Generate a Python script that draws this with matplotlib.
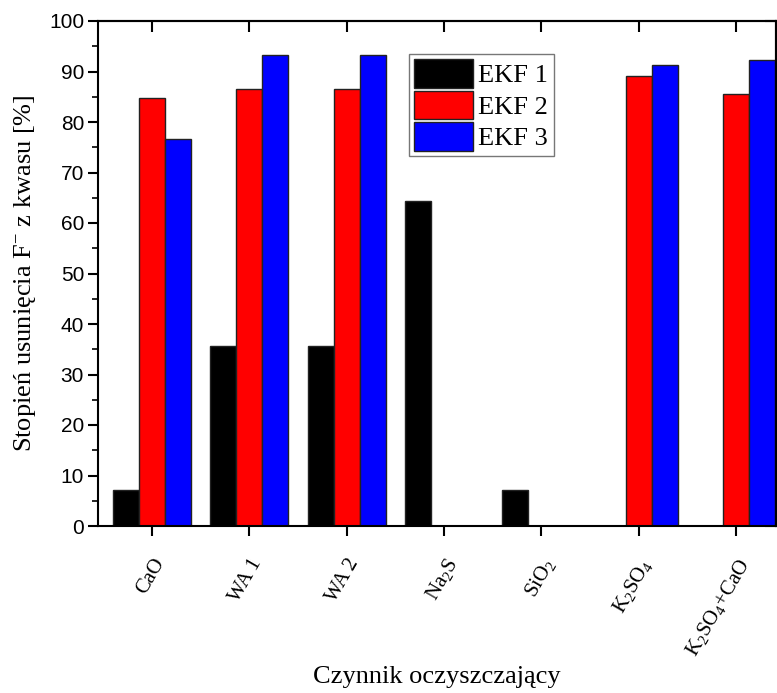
import numpy as np
import matplotlib
matplotlib.use('Agg')
import matplotlib.pyplot as plt
from matplotlib.ticker import MultipleLocator

plt.rcParams['mathtext.fontset'] = 'custom'
plt.rcParams['mathtext.rm'] = 'Liberation Serif'
plt.rcParams['mathtext.it'] = 'Liberation Serif'
plt.rcParams['mathtext.default'] = 'regular'

# dane
czynniki = ['CaO', 'WA 1', 'WA 2', r'Na$_2$S', r'SiO$_2$', r'K$_2$SO$_4$', r'K$_2$SO$_4$+CaO']
ekf1 = [7.2, 35.6, 35.6, 64.3, 7.2, 0, 0]
ekf2 = [84.8, 86.5, 86.5, 0, 0, 89.2, 85.6]
ekf3 = [76.7, 93.3, 93.3, 0, 0, 91.3, 92.3]
serie = ['EKF 1', 'EKF 2', 'EKF 3']
kolory = ['#000000', '#ff0000', '#0000ff']

fig = plt.figure(figsize=(7.77, 6.93), dpi=100)
ax = fig.add_axes([98 / 777, 1 - 526 / 693, (776 - 98) / 777, (526 - 21) / 693])

x = np.arange(len(czynniki))
w = 0.267
for k, vals in enumerate([ekf1, ekf2, ekf3]):
    ax.bar(x + (k - 1) * w, vals, width=w, color=kolory[k], edgecolor='#222222',
           linewidth=1.0, label=serie[k])

ax.set_xlim(-0.554, 6.41)
ax.set_ylim(0, 100)
ax.yaxis.set_major_locator(MultipleLocator(10))
ax.yaxis.set_minor_locator(MultipleLocator(5))
ax.set_xticks(x)
ax.set_xticklabels(czynniki, rotation=60, ha='right', va='top', rotation_mode='anchor',
                   family='Liberation Serif', fontsize=15)
for lab in ax.get_yticklabels():
    lab.set_family('Liberation Sans')
    lab.set_fontsize(15)

ax.tick_params(axis='both', which='major', direction='out', length=7, width=1.5)
ax.tick_params(axis='y', which='minor', direction='out', length=4, width=1.2)
ax.tick_params(axis='x', which='major', pad=14)
ax.tick_params(axis='y', which='major', pad=3)
sec_x = ax.secondary_xaxis('top')
sec_x.set_xticks(x)
sec_x.tick_params(direction='in', length=8, width=1.5, labeltop=False)
sec_y = ax.secondary_yaxis('right')
sec_y.set_yticks(np.arange(0, 101, 10))
sec_y.tick_params(direction='in', length=8, width=1.5, labelright=False)
for s in ax.spines.values():
    s.set_linewidth(1.5)
sec_x.spines['top'].set_linewidth(1.5)
sec_y.spines['right'].set_linewidth(1.5)

ax.set_xlabel('Czynnik oczyszczający', family='Liberation Serif', fontsize=19, labelpad=4)
ax.set_ylabel(r'Stopień usunięcia F$^{-}$ z kwasu [%]', family='Liberation Serif', fontsize=19, labelpad=8)

leg = ax.legend(loc='upper left', bbox_to_anchor=(0.458, 0.935), prop={'family': 'Liberation Serif', 'size': 19},
                frameon=True, fancybox=False, framealpha=1, edgecolor='#777777',
                handlelength=2.25, handleheight=1.3, handletextpad=0.2, borderpad=0.2, labelspacing=0.1,
                borderaxespad=0)
leg.get_frame().set_linewidth(1.0)

fig.savefig('out.png', dpi=100)
